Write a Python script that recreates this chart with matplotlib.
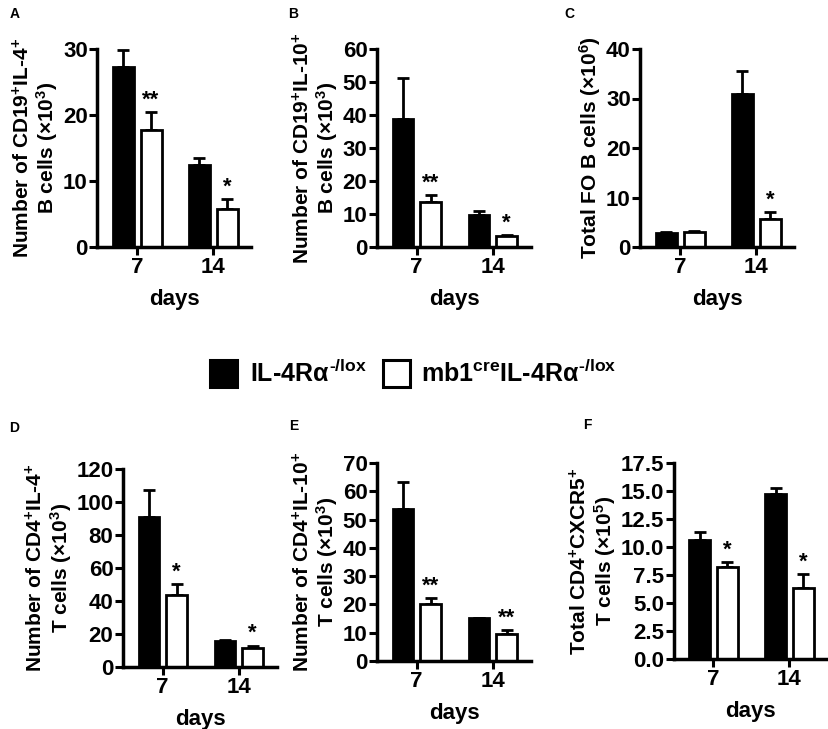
import matplotlib
matplotlib.use("Agg")
import matplotlib.pyplot as plt
from matplotlib.patches import Rectangle

plt.rcParams['font.family'] = ['Liberation Sans', 'DejaVu Sans']
plt.rcParams['font.weight'] = 'bold'
plt.rcParams['mathtext.fontset'] = 'custom'
plt.rcParams['mathtext.rm'] = 'Liberation Sans:bold'
plt.rcParams['mathtext.bf'] = 'Liberation Sans:bold'
plt.rcParams['mathtext.it'] = 'Liberation Sans:bold'
plt.rcParams['mathtext.sf'] = 'Liberation Sans:bold'

days = ["7", "14"]
groups = ["IL-4R$\\alpha^{\\text{-/lox}}$", "mb1$^{\\text{cre}}$IL-4R$\\alpha^{\\text{-/lox}}$"]

# panel data: (black means, black err, white means, white err)
A_black = [27.2, 12.4]; A_black_err = [2.6, 1.1]
A_white = [17.7, 5.8];  A_white_err = [2.7, 1.5]
B_black = [38.8, 9.7];  B_black_err = [12.5, 1.1]
B_white = [13.7, 3.3];  B_white_err = [2.1, 0.3]
C_black = [2.8, 31.0];  C_black_err = [0.2, 4.6]
C_white = [3.1, 5.6];   C_white_err = [0.2, 1.5]
D_black = [90.9, 15.8]; D_black_err = [16.4, 0.4]
D_white = [43.4, 11.6]; D_white_err = [7.1, 1.4]
E_black = [53.7, 15.1]; E_black_err = [9.6, 0.2]
E_white = [20.2, 9.4];  E_white_err = [2.2, 1.6]
F_black = [10.6, 14.7]; F_black_err = [0.7, 0.6]
F_white = [8.25, 6.3];  F_white_err = [0.4, 1.3]

A_stars = ["**", "*"]
B_stars = ["**", "*"]
C_stars = ["", "*"]
D_stars = ["*", "*"]
E_stars = ["**", "**"]
F_stars = ["*", "*"]

A_ticks = [0, 10, 20, 30]
B_ticks = [0, 10, 20, 30, 40, 50, 60]
C_ticks = [0, 10, 20, 30, 40]
D_ticks = [0, 20, 40, 60, 80, 100, 120]
E_ticks = [0, 10, 20, 30, 40, 50, 60, 70]
F_ticks = [0.0, 2.5, 5.0, 7.5, 10.0, 12.5, 15.0, 17.5]

A_label = "Number of CD19$^{+}$IL-4$^{+}$\nB cells ($\\mathregular{\u00d7}$10$^{3}$)"
B_label = "Number of CD19$^{+}$IL-10$^{+}$\nB cells ($\\mathregular{\u00d7}$10$^{3}$)"
C_label = "Total FO B cells ($\\mathregular{\u00d7}$10$^{6}$)"
D_label = "Number of CD4$^{+}$IL-4$^{+}$\nT cells ($\\mathregular{\u00d7}$10$^{3}$)"
E_label = "Number of CD4$^{+}$IL-10$^{+}$\nT cells ($\\mathregular{\u00d7}$10$^{3}$)"
F_label = "Total CD4$^{+}$CXCR5$^{+}$\nT cells ($\\mathregular{\u00d7}$10$^{5}$)"

W, H = 829, 729
fig = plt.figure(figsize=(W / 100, H / 100), dpi=100)

XL, XR = -0.52, 1.50
UNIT = 76.0

def make_axes(t7, ytop, ybot):
    left = t7 + XL * UNIT
    width = (XR - XL) * UNIT
    return fig.add_axes([left / W, 1 - ybot / H, width / W, (ybot - ytop) / H])

panels = [
    ("A", 137, 49, 247, A_black, A_black_err, A_white, A_white_err, A_stars, A_ticks, A_label, False, (10, 14)),
    ("B", 416.7, 49, 247, B_black, B_black_err, B_white, B_white_err, B_stars, B_ticks, B_label, False, (288, 14)),
    ("C", 680, 49, 247, C_black, C_black_err, C_white, C_white_err, C_stars, C_ticks, C_label, False, (564, 14)),
    ("D", 162.7, 469, 667, D_black, D_black_err, D_white, D_white_err, D_stars, D_ticks, D_label, False, (9, 428)),
    ("E", 416.7, 463, 661, E_black, E_black_err, E_white, E_white_err, E_stars, E_ticks, E_label, False, (289, 426)),
    ("F", 713.3, 463, 659, F_black, F_black_err, F_white, F_white_err, F_stars, F_ticks, F_label, True, (583, 425)),
]

x = [0, 1]
off = 0.18
bw = 0.275

for (letter, t7, ytop, ybot, bm, be, wm, we, stars, ticks, label, fmt1, lpos) in panels:
    ax = make_axes(t7, ytop, ybot)
    xb = [xi - off for xi in x]
    xw = [xi + off + 0.005 for xi in x]
    ax.bar(xb, bm, width=bw, color='black', edgecolor='black', linewidth=2, zorder=2)
    ax.errorbar(xb, bm, yerr=[[0, 0], be], fmt='none', ecolor='black', elinewidth=2,
                capsize=4, capthick=2, zorder=1)
    ax.bar(xw, wm, width=bw, color='white', edgecolor='black', linewidth=2, zorder=2)
    ax.errorbar(xw, wm, yerr=[[0, 0], we], fmt='none', ecolor='black', elinewidth=2,
                capsize=4, capthick=2, zorder=1)
    for xi, m, e, s in zip(xw, wm, we, stars):
        if s:
            ax.annotate(s, (xi, m + e), xytext=(0, 1), textcoords='offset points',
                        ha='center', va='bottom', fontsize=16, fontweight='bold',
                        annotation_clip=False)
    ax.set_xlim(XL, XR)
    ax.set_ylim(ticks[0], ticks[-1])
    ax.set_yticks(ticks)
    if fmt1:
        ax.set_yticklabels([f"{t:.1f}" for t in ticks])
    ax.set_xticks(x)
    ax.set_xticklabels(days)
    for sp in ['top', 'right']:
        ax.spines[sp].set_visible(False)
    for sp in ['left', 'bottom']:
        ax.spines[sp].set_linewidth(2.5)
    ax.tick_params(axis='both', direction='out', length=6, width=2.2, labelsize=16, pad=1)
    for t in ax.get_xticklabels() + ax.get_yticklabels():
        t.set_fontweight('bold')
    ax.set_xlabel("days", fontsize=16, fontweight='bold', labelpad=8)
    ax.set_ylabel(label, fontsize=15, fontweight='bold', labelpad=2, linespacing=1.05)
    fig.text(lpos[0] / W, 1 - lpos[1] / H, letter, fontsize=10, fontweight='bold',
             ha='left', va='center')

# legend
for (x0, fill, txt, tx) in [(210, 'black', groups[0], 250), (383, 'white', groups[1], 421)]:
    fig.patches.append(Rectangle((x0 / W, 1 - 387 / H), 27 / W, 27 / H, facecolor=fill,
                                 edgecolor='black', linewidth=2.2, transform=fig.transFigure))
    fig.text(tx / W, 1 - 373 / H, txt, fontsize=18, fontweight='bold', ha='left', va='center')

fig.savefig("out.png", dpi=100)
